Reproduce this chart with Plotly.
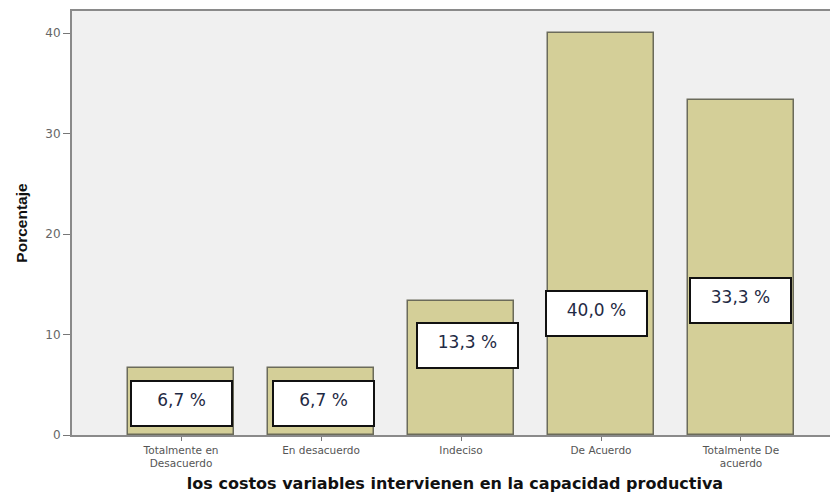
import plotly.graph_objects as go

categories = ["Totalmente en<br>Desacuerdo", "En desacuerdo", "Indeciso", "De Acuerdo", "Totalmente De<br>acuerdo"]
percentages = [6.7, 6.7, 13.3, 40.0, 33.3]
label_texts = ["6,7 %", "6,7 %", "13,3 %", "40,0 %", "33,3 %"]
y_ticks = [0, 10, 20, 30, 40]

# label box placement (layout, not data)
label_y_center = [3.15, 3.15, 8.9, 12.1, 13.35]
label_xshift = [0, 2, 6, -5, 0]

xpos = list(range(len(categories)))

fig = go.Figure()
fig.add_trace(go.Bar(
    x=xpos, y=percentages, width=0.757,
    marker=dict(color="#d4cf98", line=dict(color="#6b6b5a", width=1.5)),
    hoverinfo="skip",
))

for i, (xv, txt) in enumerate(zip(xpos, label_texts)):
    fig.add_annotation(
        x=xv, y=label_y_center[i], xref="x", yref="y",
        text=txt, showarrow=False,
        width=83, height=27, align="center", valign="top",
        bgcolor="white", bordercolor="#111111", borderwidth=2, borderpad=8,
        xshift=label_xshift[i],
        font=dict(family="DejaVu Sans", size=17, color="#1f2a44"),
    )

fig.update_layout(
    width=830, height=489,
    margin=dict(l=64, r=0, t=3, b=62),
    paper_bgcolor="white", plot_bgcolor="#f0f0f0",
    showlegend=False,
    bargap=0,
    xaxis=dict(
        range=[-0.779, 4.693],
        tickmode="array", tickvals=xpos, ticktext=categories,
        tickfont=dict(family="DejaVu Sans", size=10.5, color="#555555"),
        ticks="outside", ticklen=4, tickcolor="#777777",
        showline=True, linecolor="#8a8a8a", linewidth=2, mirror=True,
        showgrid=False, zeroline=False,
        title=dict(text="<b>los costos variables intervienen en la capacidad productiva</b>",
                   font=dict(family="DejaVu Sans", size=16, color="#111111"), standoff=10),
    ),
    yaxis=dict(
        range=[0, 42.2],
        tickmode="array", tickvals=y_ticks, ticktext=[str(v) for v in y_ticks],
        tickfont=dict(family="DejaVu Sans", size=12, color="#666666"),
        ticks="outside", ticklen=7, tickcolor="#777777",
        showline=True, linecolor="#8a8a8a", linewidth=2,
        showgrid=False, zeroline=False,
        title=dict(text="<b>Porcentaje</b>",
                   font=dict(family="Liberation Sans", size=15.5, color="#111111"), standoff=14),
    ),
)

fig.write_html("out.html")
